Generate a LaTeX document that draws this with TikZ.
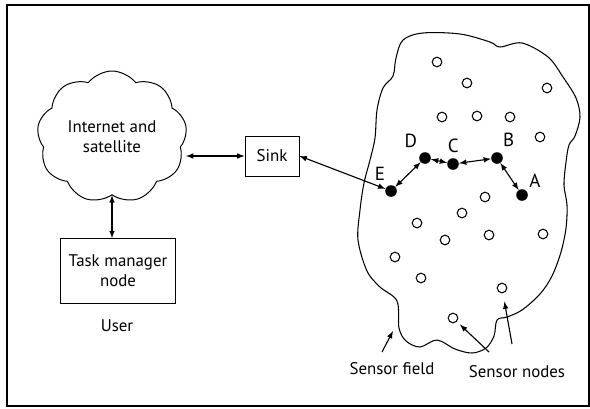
\documentclass[tikz,border=0pt]{standalone}
\usepackage{fontspec}
\setmainfont{PT Sans}
\usetikzlibrary{shapes.symbols}
\tikzstyle{nube} = [cloud, cloud puffs=9, cloud puff arc=105, aspect=1.2, draw=black, line width=0.7pt, minimum width=3.3cm, minimum height=2.8cm, align=center]
\tikzstyle{caja} = [rectangle, draw=black, line width=0.7pt, align=center]
\tikzstyle{sensor} = [circle, draw=black, line width=0.75pt, minimum size=0.24cm, inner sep=0pt]
\tikzstyle{activo} = [circle, fill=black, minimum size=0.29cm, inner sep=0pt, label distance=0pt]
\tikzstyle{flecha} = [line width=0.8pt,<->,>=latex]
\tikzstyle{puntero} = [line width=0.8pt,->,>=latex]

\begin{document}
\begin{tikzpicture}[x=0.025cm, y=-0.025cm, font=\fontsize{12}{14}\selectfont,
    every label/.style={font=\fontsize{13.5}{15}\selectfont}]
    	\useasboundingbox (0,0) rectangle (590,408);
    	\draw[line width=1.1pt] (7,5) rectangle (589,406);
    	% Campo de sensores
    	\draw[line width=0.75pt] plot[smooth cycle, tension=0.55] coordinates {
    	  (403,40) (423,33) (460,34) (490,42) (500,47) (522,43) (548,57) (563,77)
    	  (576,98) (580,117) (575,136) (569,145) (566,162) (564,185) (567,205)
    	  (566,228) (561,252) (552,276) (540,294) (522,310) (507,317) (497,320)
    	  (494,336) (486,348) (472,353) (455,349) (437,340) (420,347) (406,341)
    	  (399,328) (397,301) (380,287) (367,271) (358,240) (360,210) (364,183)
    	  (370,160) (375,138) (377,110) (383,88) (393,76) (396,58)};
    	% Cuadros
    	\node (inet) [nube] at (112,137) {Internet and\\satellite};
    	\node (sink) [caja, minimum width=1.35cm, minimum height=1cm] at (272,156) {Sink};
    	\node (task) [caja, minimum width=2.85cm, minimum height=1.62cm] at (118,271) {Task manager\\node};
    	\node (user) at (117,326) {User};
    	% Sensores
    	\foreach \nx/\ny [count=\i] in {437/62, 467/83, 547/88, 442/117, 477/116, 510/117, 540/137,
    	    485/197, 462/213, 417/223, 445/240, 489/235, 543/234, 395/257, 421/278, 502/288, 453/318}
    	  \node (s\i) [sensor] at (\nx,\ny) {};
    	\node (E) [activo, label=100:E] at (391,191) {};
    	\node (D) [activo, label=120:D] at (425,158) {};
    	\node (C) [activo, label=88:C] at (453,164) {};
    	\node (B) [activo, label=80:B] at (497,158) {};
    	\node (A) [activo, label={[label distance=-2pt]40:A}] at (522,195) {};
    	% Textos
    	\node (sfield) at (392,369) {Sensor field};
    	\node (snodes) at (517,372) {Sensor nodes};
    	\coordinate (cola1) at (382,352);
    	\coordinate (punta1) at (393,331);
    	\coordinate (cola2) at (489,352);
    	\coordinate (cola3) at (512,344);
    	% Flechas
        \draw[flecha] (sink.west -| inet.east) -- (sink.west);
        \draw[flecha] (inet.south) -- (inet.south |- task.north);
        \draw[flecha] (sink.east) -- (E);
        \draw[flecha] (E) -- (D);
        \draw[flecha] (D) -- (C);
        \draw[flecha] (C) -- (B);
        \draw[flecha] (B) -- (A);
        \draw[puntero] (cola1) -- (punta1);
        \draw[puntero, shorten >=3pt] (cola2) -- (s17);
        \draw[puntero, shorten >=6pt] (cola3) -- (s16);
    
    \end{tikzpicture}
\end{document}
